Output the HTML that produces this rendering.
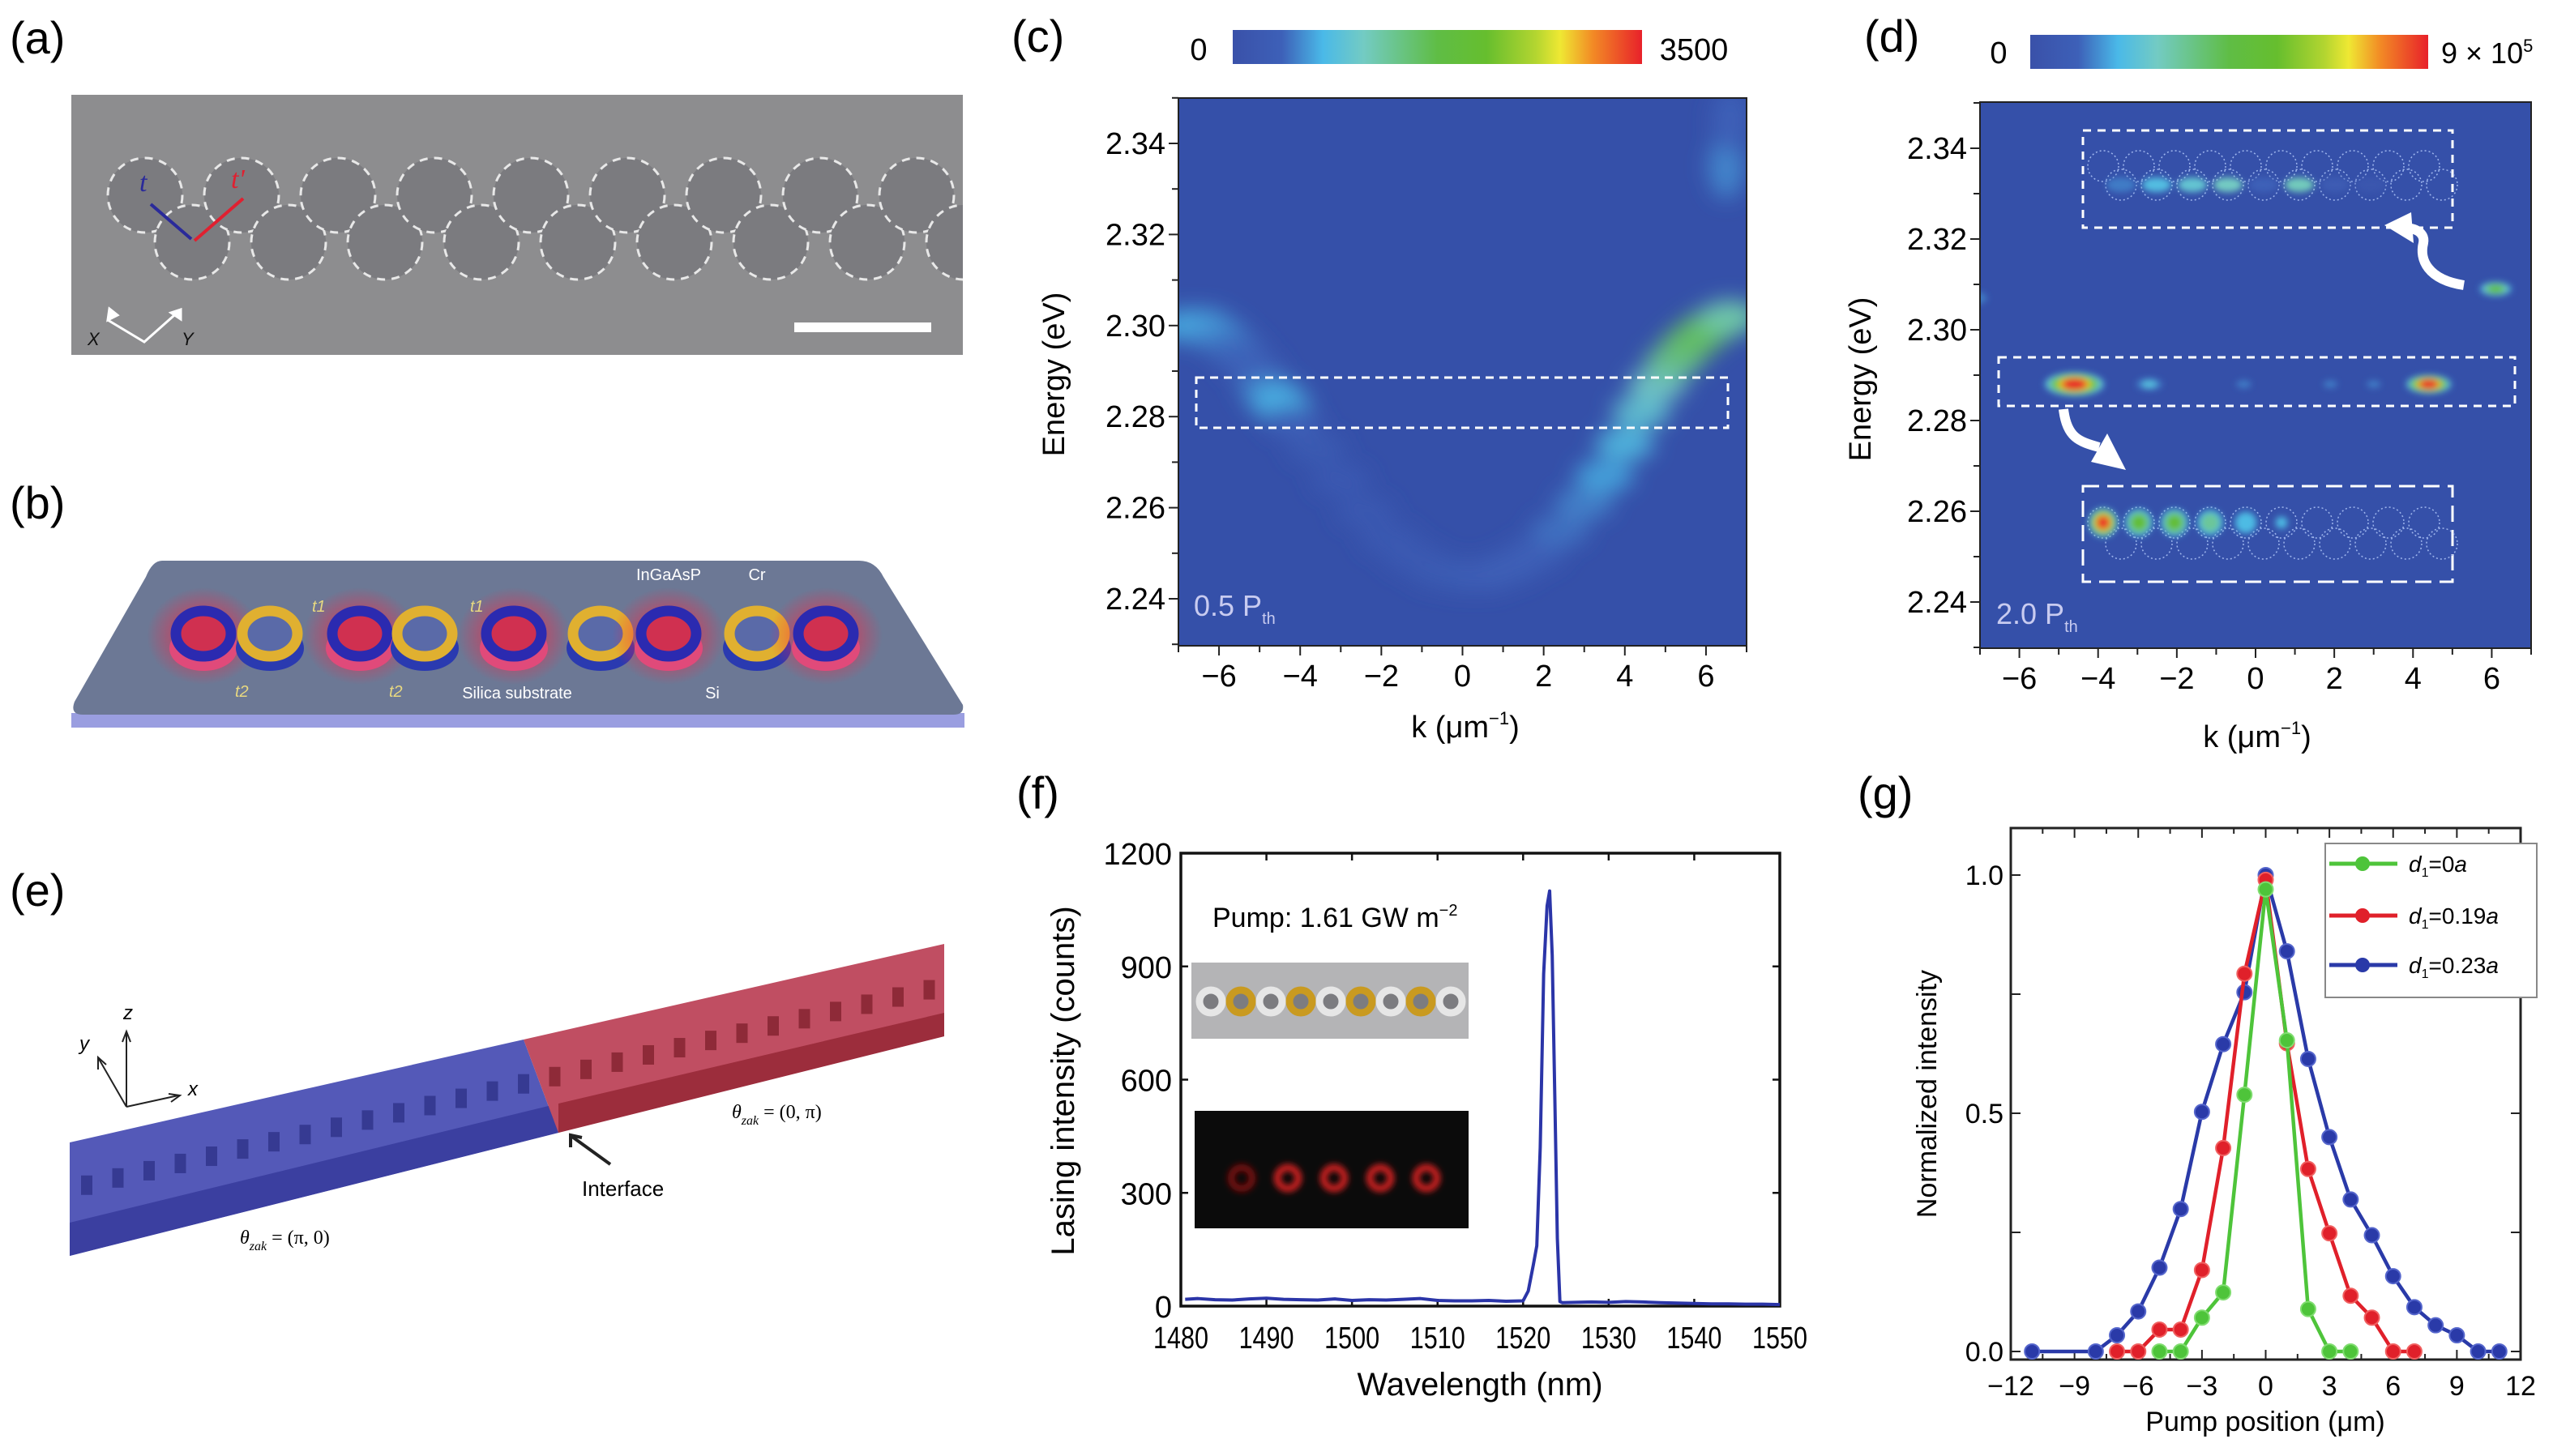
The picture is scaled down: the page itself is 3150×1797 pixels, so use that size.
<!DOCTYPE html>
<html><head><meta charset="utf-8"><style>
html,body{margin:0;padding:0;background:#fff;}
svg{display:block;font-family:"Liberation Sans",sans-serif;}
</style></head><body>
<svg id="fig" xmlns="http://www.w3.org/2000/svg" width="3150" height="1797" viewBox="0 0 3150 1797">
<defs>
<linearGradient id="cmap" x1="0" x2="1" y1="0" y2="0">
<stop offset="0" stop-color="#3a51a9"/><stop offset="0.12" stop-color="#3d60b8"/><stop offset="0.22" stop-color="#4ab9e8"/><stop offset="0.32" stop-color="#73cbc3"/><stop offset="0.5" stop-color="#5fbd45"/><stop offset="0.62" stop-color="#66be2e"/><stop offset="0.74" stop-color="#b3d530"/><stop offset="0.8" stop-color="#efe833"/><stop offset="0.88" stop-color="#f28a25"/><stop offset="1" stop-color="#e8212a"/>
</linearGradient>
<filter id="blurS" x="-50%" y="-50%" width="200%" height="200%"><feGaussianBlur stdDeviation="13"/></filter>
<filter id="blurT" x="-50%" y="-50%" width="200%" height="200%"><feGaussianBlur stdDeviation="4"/></filter>
<radialGradient id="glow"><stop offset="0" stop-color="#ff2040" stop-opacity="0.9"/><stop offset="1" stop-color="#ff2040" stop-opacity="0"/></radialGradient>
<clipPath id="clipC"><rect x="1454" y="121" width="701" height="676"/></clipPath>
<clipPath id="clipD"><rect x="2443" y="126" width="680" height="674"/></clipPath>
<clipPath id="clipA"><rect x="88" y="117" width="1100" height="321"/></clipPath>
</defs>

<text x="12" y="66" font-size="56">(a)</text>
<text x="12" y="640" font-size="56">(b)</text>
<text x="12" y="1118" font-size="56">(e)</text>
<text x="1248" y="64" font-size="56">(c)</text>
<text x="2300" y="64" font-size="56">(d)</text>
<text x="1254" y="998" font-size="56">(f)</text>
<text x="2292" y="998" font-size="56">(g)</text>

<g clip-path="url(#clipA)">
<rect x="88" y="117" width="1100" height="321" fill="#8d8d8f"/>
<g id="semCircles" fill="#7b7b7f" stroke="#e8e8e8" stroke-width="3" stroke-dasharray="10 8"></g>
<rect x="980" y="398" width="169" height="12" fill="#fff"/>
<g stroke="#fff" stroke-width="3" fill="none">
<path d="M133 395 L178 422 L223 382"/><path d="M133 395 l2-14 l10 8z" fill="#fff"/><path d="M223 382 l-12 4 l12 8z" fill="#fff"/>
</g>
<text x="108" y="426" font-size="22" font-style="italic" fill="#111">X</text>
<text x="224" y="426" font-size="22" font-style="italic" fill="#111">Y</text>
<g stroke-width="4">
<line x1="186" y1="252" x2="236" y2="295" stroke="#2a2a9a"/><line x1="240" y1="297" x2="300" y2="245" stroke="#e02030"/>
</g>
<text x="172" y="236" font-size="34" font-style="italic" fill="#2a2a9a" font-family="Liberation Serif,serif">t</text>
<text x="285" y="232" font-size="34" font-style="italic" fill="#e02030" font-family="Liberation Serif,serif">t'</text>
</g>

<g>
<path d="M88 880 L88 898 L1190 898 L1190 880 Z" fill="#9a9ee0"/>
<path d="M200 692 L1060 692 Q1080 692 1090 712 L1188 870 Q1190 882 1176 882 L102 882 Q86 882 92 866 L180 712 Q188 692 200 692 Z" fill="#6c7895"/>
<g id="rings"></g>
<text x="825" y="716" font-size="20" fill="#fff" text-anchor="middle">InGaAsP</text>
<text x="934" y="716" font-size="20" fill="#fff" text-anchor="middle">Cr</text>
<text x="638" y="862" font-size="20" fill="#fff" text-anchor="middle">Silica substrate</text>
<text x="879" y="862" font-size="20" fill="#fff" text-anchor="middle">Si</text>
<text x="385" y="755" font-size="20" fill="#e8d880" font-style="italic">t1</text>
<text x="580" y="755" font-size="20" fill="#e8d880" font-style="italic">t1</text>
<text x="290" y="860" font-size="20" fill="#e8d880" font-style="italic">t2</text>
<text x="480" y="860" font-size="20" fill="#e8d880" font-style="italic">t2</text>
</g>

<g>
<polygon points="86,1410 646,1283 689,1398 86,1550" fill="#5459b8"/>
<polygon points="86,1509 689,1362 689,1398 86,1550" fill="#3b3fa0"/>
<polygon points="646,1283 1165,1165 1165,1279 689,1398" fill="#c04e62"/>
<polygon points="689,1362 1165,1250 1165,1279 689,1398" fill="#9c2d3c"/>
<g id="holes"></g>
<g stroke="#222" stroke-width="2" fill="none">
<path d="M156 1366 L156 1276"/><path d="M151 1286 L156 1273 L161 1286"/>
<path d="M156 1366 L220 1352"/><path d="M208 1350 L222 1352 L211 1360"/>
<path d="M156 1366 L122 1307"/><path d="M121 1320 L121 1305 L131 1314"/>
<path d="M753 1437 L706 1403" stroke-width="4"/><path d="M704 1416 L704 1401 L718 1404" stroke-width="4"/>
</g>
<text x="152" y="1258" font-size="24" font-style="italic">z</text>
<text x="98" y="1296" font-size="24" font-style="italic">y</text>
<text x="232" y="1352" font-size="24" font-style="italic">x</text>
<text x="718" y="1476" font-size="26">Interface</text>
<text x="296" y="1535" font-size="24" font-style="italic" font-family="Liberation Serif,serif">θ<tspan font-size="16" dy="8">zak</tspan><tspan dy="-8" font-style="normal"> = (π, 0)</tspan></text>
<text x="903" y="1380" font-size="24" font-style="italic" font-family="Liberation Serif,serif">θ<tspan font-size="16" dy="8">zak</tspan><tspan dy="-8" font-style="normal"> = (0, π)</tspan></text>
</g>

<g>
<rect x="1521" y="37" width="505" height="42" fill="url(#cmap)"/>
<text x="1479" y="74" font-size="38" text-anchor="middle">0</text>
<text x="2090" y="74" font-size="38" text-anchor="middle">3500</text>
<rect x="1454" y="121" width="701" height="676" fill="#3550a9"/>
<g id="cHeat" clip-path="url(#clipC)"></g>
<rect x="1476" y="466" width="656" height="62" fill="none" stroke="#fff" stroke-width="3" stroke-dasharray="10 7"/>
<text x="1473" y="760" font-size="36" fill="#c8cbf0">0.5 P<tspan font-size="20" dy="10">th</tspan></text>
<rect x="1454" y="121" width="701" height="676" fill="none" stroke="#222" stroke-width="2"/>
<g id="cAxes"></g>
<text x="1808" y="910" font-size="38" text-anchor="middle">k (μm<tspan font-size="22" dy="-16">−1</tspan><tspan dy="16">)</tspan></text>
<text transform="translate(1313,462) rotate(-90)" font-size="38" text-anchor="middle">Energy (eV)</text>
</g>

<g>
<rect x="2505" y="43" width="491" height="42" fill="url(#cmap)"/>
<text x="2466" y="78" font-size="38" text-anchor="middle">0</text>
<text x="3012" y="78" font-size="36">9 × 10<tspan font-size="22" dy="-14">5</tspan></text>
<rect x="2443" y="126" width="680" height="674" fill="#3550a9"/>
<g id="dHeat" clip-path="url(#clipD)"></g>
<text x="2463" y="770" font-size="36" fill="#c8cbf0">2.0 P<tspan font-size="20" dy="10">th</tspan></text>
<rect x="2443" y="126" width="680" height="674" fill="none" stroke="#222" stroke-width="2"/>
<g id="dAxes"></g>
<text x="2785" y="922" font-size="38" text-anchor="middle">k (μm<tspan font-size="22" dy="-16">−1</tspan><tspan dy="16">)</tspan></text>
<text transform="translate(2308,468) rotate(-90)" font-size="38" text-anchor="middle">Energy (eV)</text>
</g>

<g>
<g id="fAxes"></g>
<text x="1496" y="1144" font-size="34">Pump: 1.61 GW m<tspan font-size="20" dy="-14">−2</tspan></text>
<rect x="1470" y="1188" width="342" height="94" fill="#b4b4b6"/>
<g id="fRings"></g>
<rect x="1474" y="1371" width="338" height="145" fill="#0b0b0b"/>
<g id="fSpots" filter="url(#blurT)"></g>
<text x="1826" y="1722" font-size="40" text-anchor="middle">Wavelength (nm)</text>
<text transform="translate(1325,1334) rotate(-90)" font-size="40" text-anchor="middle">Lasing intensity (counts)</text>
</g>

<g>
<g id="gAxes"></g>
<g id="gSeries"></g>
<text x="2795" y="1766" font-size="34" text-anchor="middle">Pump position (μm)</text>
<text transform="translate(2389,1350) rotate(-90)" font-size="34" text-anchor="middle">Normalized intensity</text>
<rect x="2869" y="1041" width="261" height="190" fill="#fff" stroke="#888" stroke-width="2"/>
<g id="gLegend"></g>
</g>
</svg>
<script>
const NS='http://www.w3.org/2000/svg';
function mk(tag,attrs,parent){const e=document.createElementNS(NS,tag);for(const k in attrs)e.setAttribute(k,attrs[k]);parent.appendChild(e);return e;}
function $(id){return document.getElementById(id);}

const cTicksK=[-6,-4,-2,0,2,4,6];
const cTicksE=[2.24,2.26,2.28,2.30,2.32,2.34];
const cBandK=[-6.8,-6.4,-6.0,-5.6,-5.2,-4.8,-4.5,-4.2,-3.6,-3,-2.4,-1.8,-1.2,-0.6,0,0.6,1.2,1.8,2.4,3,3.5,4,4.4,4.8,5.2,5.6,6,6.4,6.6];
const cBandE=[2.300,2.300,2.298,2.295,2.291,2.286,2.283,2.279,2.273,2.266,2.259,2.253,2.249,2.246,2.245,2.245,2.247,2.250,2.255,2.261,2.267,2.274,2.281,2.287,2.292,2.296,2.299,2.301,2.302];
const cBandI=[0.2,0.2,0.17,0.13,0.12,0.16,0.22,0.12,0.08,0.07,0.06,0.06,0.07,0.08,0.09,0.1,0.11,0.12,0.14,0.16,0.2,0.24,0.28,0.32,0.4,0.45,0.46,0.42,0.35];
const cFaintK=[6.5,6.6];
const cFaintE=[2.335,2.345];
const cFaintI=[0.16,0.12];

const dTicksK=[-6,-4,-2,0,2,4,6];
const dTicksE=[2.24,2.26,2.28,2.30,2.32,2.34];
const dSpotK=[-4.6,-2.7,-0.3,1.9,3.0,4.4,6.1,-7.2];
const dSpotE=[2.288,2.288,2.288,2.288,2.288,2.288,2.309,2.307];
const dSpotI=[1.0,0.2,0.13,0.12,0.12,0.97,0.5,0.12];
const dSpotSpread=[0.75,0.4,0.25,0.25,0.25,0.55,0.4,0.8];
const dLowerModeI=[1.0,0.6,0.6,0.45,0.28,0.15,0,0,0,0];
const dUpperModeI=[0.15,0.24,0.28,0.32,0.12,0.33,0.08,0.05,0,0];

const fTicksX=[1480,1490,1500,1510,1520,1530,1540,1550];
const fTicksY=[0,300,600,900,1200];
const fWave=[1480.5,1482,1484,1486,1488,1490,1492,1494,1496,1498,1500,1502,1504,1506,1508,1510,1512,1514,1516,1518,1520,1520.6,1521.2,1521.6,1522,1522.4,1522.8,1523.1,1523.4,1523.7,1524.0,1524.3,1524.6,1526,1528,1530,1532,1534,1536,1538,1540,1542,1544,1546,1548,1550];
const fCount=[18,20,17,16,19,21,18,17,16,19,15,17,16,18,20,15,14,14,15,13,14,40,110,160,420,880,1060,1100,930,560,180,12,9,10,11,10,12,11,9,8,7,6,6,5,5,4];

const gTicksX=[-12,-9,-6,-3,0,3,6,9,12];
const gTicksY=[0,0.5,1.0];
const gPosGreen=[-5,-4,-3,-2,-1,0,1,2,3,4];
const gValGreen=[0,0,0.071,0.124,0.539,0.97,0.653,0.089,0,0];
const gPosRed=[-7,-6,-5,-4,-3,-2,-1,0,1,2,3,4,5,6,7];
const gValRed=[0,0,0.046,0.046,0.171,0.427,0.793,0.99,0.647,0.383,0.248,0.117,0.071,0,0];
const gPosBlue=[-11,-8,-7,-6,-5,-4,-3,-2,-1,0,1,2,3,4,5,6,7,8,9,10,11];
const gValBlue=[0,0,0.034,0.084,0.176,0.299,0.503,0.645,0.754,1.0,0.84,0.614,0.45,0.319,0.244,0.158,0.093,0.055,0.034,0,0];
const gLegendLabels=['0a','0.19a','0.23a'];

const stops=[[0,[58,81,169]],[0.12,[61,96,184]],[0.22,[74,185,232]],[0.32,[115,203,195]],[0.5,[95,189,69]],[0.62,[102,190,46]],[0.74,[179,213,48]],[0.8,[239,232,51]],[0.88,[242,138,37]],[1,[232,33,42]]];
function cmap(v){v=Math.max(0,Math.min(1,v));for(let i=1;i<stops.length;i++){if(v<=stops[i][0]){const a=stops[i-1],b=stops[i],t=(v-a[0])/(b[0]-a[0]);return 'rgb('+a[1].map((c,j)=>Math.round(c+(b[1][j]-c)*t)).join(',')+')';}}return 'rgb(232,33,42)';}

const semG=$('semCircles');
for(let i=0;i<9;i++){
  const c1=mk('circle',{cx:179+i*119,cy:241,r:46},semG);
  
  
  const c2=mk('circle',{cx:237+i*119,cy:299,r:46},semG);
  
  
}

const ringG=$('rings');
const ringX=[251,333,444,524,634,741,825,934,1019];
ringX.forEach((x,i)=>{
  const blue=i%2===0;
  if(blue){const gl=mk('ellipse',{cx:x,cy:785,rx:70,ry:60,fill:'url(#glow)'},ringG);
    
    }
  mk('ellipse',{cx:x,cy:800,rx:36,ry:22,fill:'none',stroke:blue?'#e04a7a':'#2a3ab0','stroke-width':12},ringG);
  const r=mk('ellipse',{cx:x,cy:782,rx:34,ry:28,fill:blue?'#d03050':'#5a6aa8',stroke:blue?'#2b2ab0':'#e0b030','stroke-width':13},ringG);
  
  
});

const holeG=$('holes');
for(let i=0;i<28;i++){
  const x=100+i*38.5, y=1472-(x-86)*0.232;
  const h=mk('rect',{x:x,y:y-18,width:14,height:24,fill:i<15?'#363a92':'#8e2a38',transform:'skewY(-13 '+x+' '+y+')'},holeG);
  
  
}

const xc=k=>1454+(k+7)/14*701;
const yc=E=>177+(2.34-E)/0.1*562;
const cH=$('cHeat');
const cBand=mk('g',{filter:'url(#blurS)'},cH);
cBandK.forEach((k,i)=>{
  const e=mk('ellipse',{cx:xc(k),cy:yc(cBandE[i]),rx:36,ry:20,fill:cmap(cBandI[i]),'fill-opacity':0.9},cBand);
  
  
});
cFaintK.forEach((k,i)=>{
  const e=mk('ellipse',{cx:xc(k),cy:yc(cFaintE[i]),rx:22,ry:40,fill:cmap(cFaintI[i])},cBand);
  
  
});
function axes(g,xf,yf,kt,et,x0,x1,y0,y1,kmin,kmax,emin,emax){
  for(let k=kmin;k<=kmax;k++){mk('line',{x1:xf(k),x2:xf(k),y1:y1,y2:y1+(kt.includes(k)?12:8),stroke:'#222','stroke-width':2},g);}
  kt.forEach(k=>{const t=mk('text',{x:xf(k),y:y1+50,'font-size':38,'text-anchor':'middle'},g);t.textContent=(k<0?'−':'')+Math.abs(k);
    
    });
  for(let e=Math.round(emin*100);e<=Math.round(emax*100);e++){const v=e/100;const major=et.some(q=>Math.abs(q-v)<1e-6);mk('line',{x1:x0-(major?12:8),x2:x0,y1:yf(v),y2:yf(v),stroke:'#222','stroke-width':2},g);}
  et.forEach(v=>{const t=mk('text',{x:x0-16,y:yf(v)+13,'font-size':38,'text-anchor':'end'},g);t.textContent=v.toFixed(2);
    
    });
}
axes($('cAxes'),xc,yc,cTicksK,cTicksE,1454,2155,121,797,-7,7,2.23,2.35);

const xd=k=>2443+(k+7)/14*680;
const yd=E=>183+(2.34-E)/0.1*560;
const dH=$('dHeat');
const dSp=mk('g',{filter:'url(#blurT)'},dH);
dSpotK.forEach((k,i)=>{
  const I=dSpotI[i], w=dSpotSpread[i]*48.6;
  const levels=[0.1,0.2,0.3,0.45,0.6,0.75,0.85,0.95].filter(l=>l<=I);
  levels.forEach(l=>{
    const s=1-(l/Math.max(I,0.01))*0.75;
    const e=mk('ellipse',{cx:xd(k),cy:yd(dSpotE[i]),rx:w*s+4,ry:(w*0.36)*s+3,fill:cmap(l+0.05)},dSp);
    
    
  });
});
[[2570,161,456,120],[2466,441,637,60],[2570,600,456,118]].forEach(b=>{
  const r=mk('rect',{x:b[0],y:b[1],width:b[2],height:b[3],fill:'none',stroke:'#fff','stroke-width':3,'stroke-dasharray':b[1]===600?'20 10':'10 8'},dH);
  
  
});
const dIn=mk('g',{},dH);
for(let i=0;i<10;i++){
  const cx=2595+i*44;
  [[205,cx],[228,cx+22],[645,cx],[671,cx+22]].forEach(p=>{
    mk('circle',{cx:p[1],cy:p[0],r:19,fill:'none',stroke:'#9fb6ee','stroke-width':1.5,'stroke-dasharray':'2 3'},dIn);
  });
}
const dModes=mk('g',{filter:'url(#blurT)'},dH);
dLowerModeI.forEach((I,i)=>{
  if(I<=0)return;
  [0.15,0.3,0.5,0.7,0.9].filter(l=>l<=I).forEach(l=>{
    const e=mk('circle',{cx:2595+i*44,cy:645,r:18*(1-(l/I)*0.7)+2,fill:cmap(l+0.08)},dModes);
    
    
  });
});
dUpperModeI.forEach((I,i)=>{
  if(I<=0)return;
  const e=mk('ellipse',{cx:2617+i*44,cy:228,rx:18,ry:9,fill:cmap(I)},dModes);
  
  
});
const arr1=mk('path',{d:'M3040 352 C2995 345 2985 320 2990 300 C2993 285 2975 280 2965 282',fill:'none',stroke:'#fff','stroke-width':12},dH);


mk('path',{d:'M2942 278 L2975 262 L2978 300 Z',fill:'#fff'},dH);
const arr2=mk('path',{d:'M2546 505 C2550 540 2565 545 2590 552',fill:'none',stroke:'#fff','stroke-width':12},dH);


mk('path',{d:'M2623 580 L2580 570 L2600 535 Z',fill:'#fff'},dH);
axes($('dAxes'),xd,yd,dTicksK,dTicksE,2443,3123,126,800,-7,7,2.23,2.35);

const xf=w=>1457+(w-1480)/70*739;
const yf=v=>1612-v/1200*559;
const fA=$('fAxes');
fTicksX.forEach(w=>{
  mk('line',{x1:xf(w),x2:xf(w),y1:1612,y2:1603,stroke:'#111','stroke-width':2.5},fA);
  mk('line',{x1:xf(w),x2:xf(w),y1:1053,y2:1062,stroke:'#111','stroke-width':2.5},fA);
  const t=mk('text',{x:xf(w),y:1664,'font-size':38,'text-anchor':'middle',textLength:68,lengthAdjust:'spacingAndGlyphs'},fA);
  t.textContent=w;
  
  
});
fTicksY.forEach(v=>{
  mk('line',{x1:1457,x2:1466,y1:yf(v),y2:yf(v),stroke:'#111','stroke-width':2.5},fA);
  mk('line',{x1:2196,x2:2187,y1:yf(v),y2:yf(v),stroke:'#111','stroke-width':2.5},fA);
  const t=mk('text',{x:1446,y:yf(v)+14,'font-size':38,'text-anchor':'end'},fA);
  t.textContent=v;
  
  
});
mk('rect',{x:1457,y:1053,width:739,height:559,fill:'none',stroke:'#111','stroke-width':3.5},fA);
const fLine=mk('polyline',{points:fWave.map((w,i)=>xf(w)+','+yf(fCount[i])).join(' '),fill:'none',stroke:'#2b35a8','stroke-width':4,'stroke-linejoin':'round'},fA);


const fR=$('fRings');
for(let i=0;i<9;i++){
  const r=mk('circle',{cx:1494+i*37,cy:1236,r:14,fill:'#7c7c80',stroke:i%2?'#c99a20':'#e6e6e6','stroke-width':9},fR);
  
  
}
const fS=$('fSpots');
for(let i=0;i<5;i++){
  const s=mk('circle',{cx:1532+i*57,cy:1454,r:13,fill:'none',stroke:i===0?'#801010':'#e02020','stroke-width':8},fS);
  
  
}

const xg=p=>2481+(p+12)/24*629;
const yg=v=>1668-v*588;
const gA=$('gAxes');
mk('rect',{x:2481,y:1022,width:629,height:656,fill:'none',stroke:'#222','stroke-width':3},gA);
for(let p=-12;p<=12;p+=1.5){
  const major=Number.isInteger(p/3);
  mk('line',{x1:xg(p),x2:xg(p),y1:1678,y2:1678-(major?12:7),stroke:'#222','stroke-width':2},gA);
  mk('line',{x1:xg(p),x2:xg(p),y1:1022,y2:1022+(major?12:7),stroke:'#222','stroke-width':2},gA);
}
gTicksX.forEach(p=>{
  const t=mk('text',{x:xg(p),y:1722,'font-size':34,'text-anchor':'middle'},gA);
  t.textContent=(p<0?'−':'')+Math.abs(p);
  
  
});
for(let v=0;v<=1.001;v+=0.25){
  mk('line',{x1:2481,x2:2493,y1:yg(v),y2:yg(v),stroke:'#222','stroke-width':2},gA);
  mk('line',{x1:3110,x2:3098,y1:yg(v),y2:yg(v),stroke:'#222','stroke-width':2},gA);
}
gTicksY.forEach(v=>{
  const t=mk('text',{x:2472,y:yg(v)+12,'font-size':34,'text-anchor':'end'},gA);
  t.textContent=v.toFixed(1);
  
  
});
const gS=$('gSeries');
const gSeries=[[gPosBlue,gValBlue,'#2a3aa8','#5566cc'],[gPosRed,gValRed,'#e0202a','#f06060'],[gPosGreen,gValGreen,'#4ec43a','#80dd70']];
gSeries.forEach(s=>{
  const pl=mk('polyline',{points:s[0].map((p,i)=>xg(p)+','+yg(s[1][i])).join(' '),fill:'none',stroke:s[2],'stroke-width':4.5},gS);
  
  
  s[0].forEach((p,i)=>{
    const c=mk('circle',{cx:xg(p),cy:yg(s[1][i]),r:9,fill:s[2],stroke:s[3],'stroke-width':2},gS);
    
    
  });
});
const gL=$('gLegend');
[['#4ec43a',1066],['#e0202a',1130],['#2a3aa8',1191]].forEach((e,i)=>{
  mk('line',{x1:2874,x2:2958,y1:e[1],y2:e[1],stroke:e[0],'stroke-width':5},gL);
  mk('circle',{cx:2915,cy:e[1],r:9,fill:e[0]},gL);
  const t=mk('text',{x:2972,y:e[1]+10,'font-size':28},gL);
  t.innerHTML='<tspan font-style="italic">d</tspan><tspan font-size="16" dy="6">1</tspan><tspan dy="-6">='+gLegendLabels[i].slice(0,-1)+'</tspan><tspan font-style="italic">a</tspan>';
  
  
});
</script>
</body></html>
